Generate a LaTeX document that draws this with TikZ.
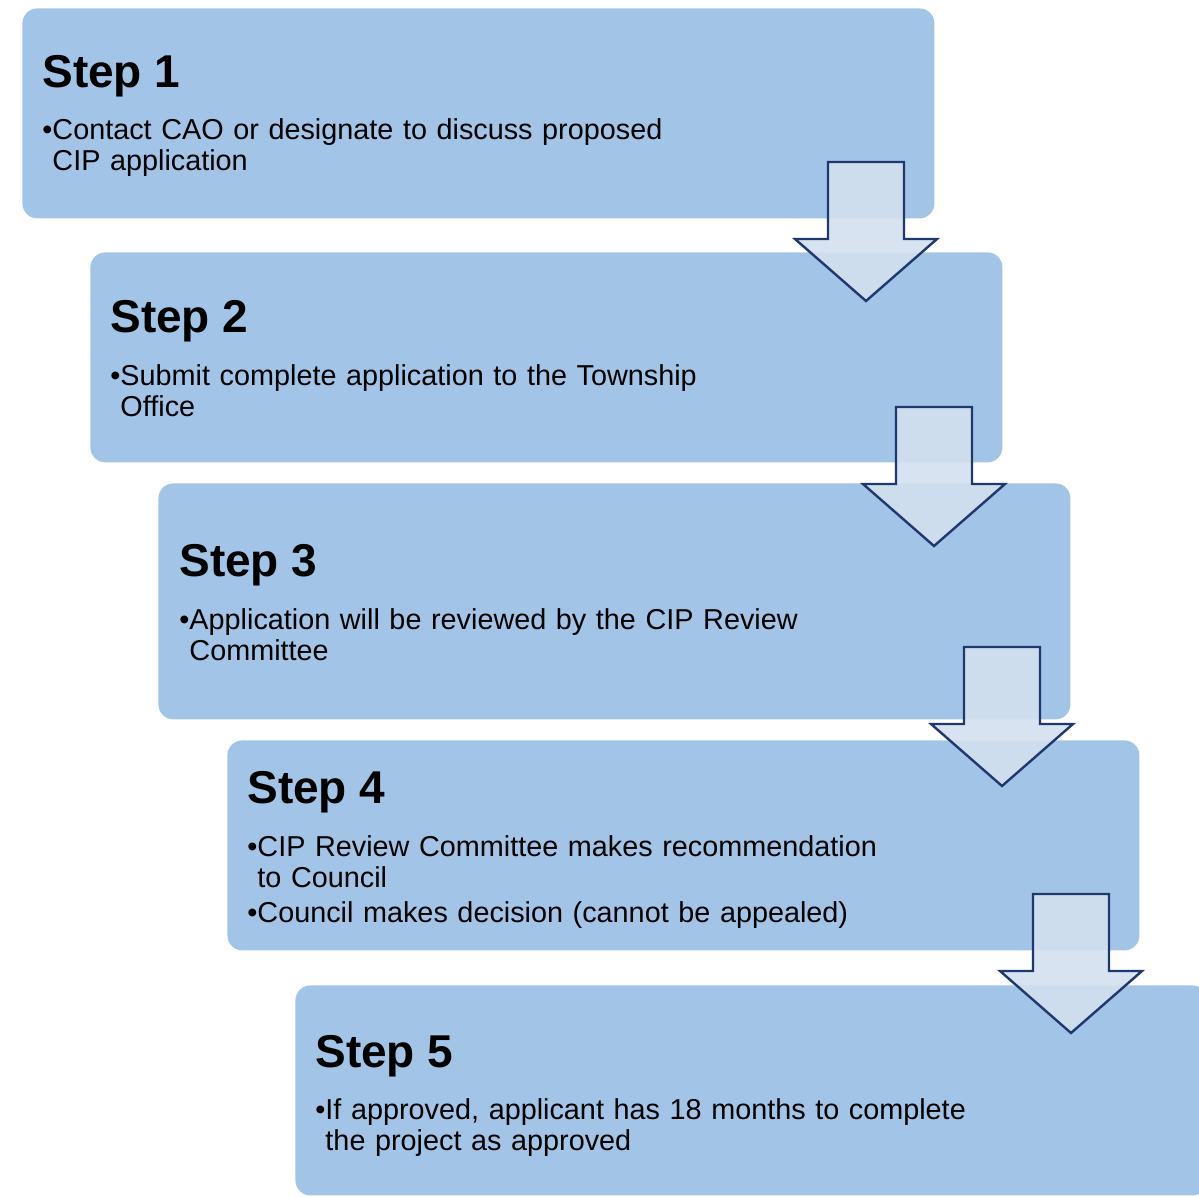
\documentclass[tikz,border=0pt]{standalone}
\usepackage{fontspec}
\setmainfont{Liberation Sans}
\usetikzlibrary{positioning}
\usepackage{xcolor}
\definecolor{boxblue}{RGB}{162,196,230}
\definecolor{arrowfill}{RGB}{211,224,239}
\definecolor{arrowline}{RGB}{31,56,110}

\begin{document}
\begin{tikzpicture}[x=0.5pt,y=0.5pt]
\tikzstyle{stepbox} = [rectangle, fill=boxblue, rounded corners=7.5pt,
minimum width=456pt, minimum height=105pt, anchor=north west, inner sep=0pt]
\tikzstyle{steptitle} = [anchor=base west, inner sep=0pt,
font=\fontsize{23}{28}\selectfont\bfseries]
\tikzstyle{steptext} = [anchor=base west, inner sep=0pt, text width=420pt,
align=left, font=\fontsize{14.4}{15.5}\selectfont]
\tikzstyle{blockarrow} = [draw=arrowline, line width=1.2pt, fill=arrowfill,
fill opacity=0.9, line join=miter]
\tikzset{downarrow/.pic={
  \path[blockarrow] (-38,0) -- (38,0) -- (38,-77) -- (71,-77) -- (0,-139)
    -- (-71,-77) -- (-38,-77) -- cycle;
}}
\useasboundingbox (0,0) rectangle (1199,-1197);
\clip (0,0) rectangle (1199,-1197);
% boxes
\node [stepbox] (box1) at (22,-8) {};
\node [stepbox] (box2) at (90,-252) {};
\node [stepbox, minimum height=118pt] (box3) at (158,-483) {};
\node [stepbox] (box4) at (227,-740) {};
\node [stepbox] (box5) at (295,-985) {};
% texts
\node [steptitle] (title1) at (42,-88) {Step 1};
\node [steptext] (text1) at (42,-140) {•Contact CAO or designate to discuss proposed\\\hphantom{•}CIP application};
\node [steptitle] (title2) at (110,-333) {Step 2};
\node [steptext] (text2) at (110,-386) {•Submit complete application to the Township\\\hphantom{•}Office};
\node [steptitle] (title3) at (179,-577) {Step 3};
\node [steptext] (text3) at (179,-630) {•Application will be reviewed by the CIP Review\\\hphantom{•}Committee};
\node [steptitle] (title4) at (247,-803) {Step 4};
\node [steptext] (text4) at (247,-856) {•CIP Review Committee makes recommendation\\\hphantom{•}to Council\\[2pt]•Council makes decision (cannot be appealed)};
\node [steptitle] (title5) at (315,-1067) {Step 5};
\node [steptext] (text5) at (315,-1119) {•If approved, applicant has 18 months to complete\\\hphantom{•}the project as approved};
% arrows
\pic at (866,-162) {downarrow};
\pic at (934,-407) {downarrow};
\pic at (1002,-647) {downarrow};
\pic at (1071,-894) {downarrow};
\end{tikzpicture}
\end{document}
